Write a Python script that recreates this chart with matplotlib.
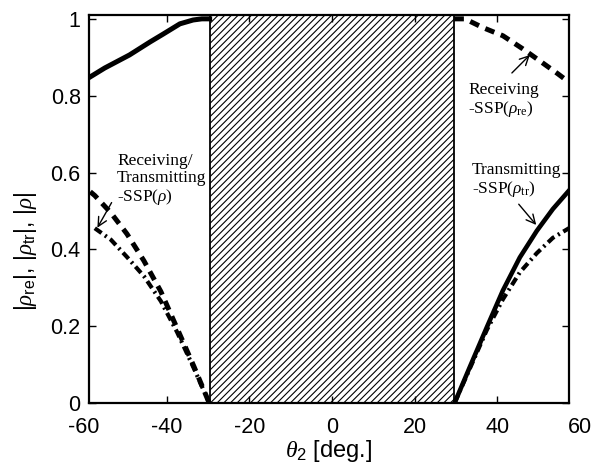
import matplotlib
matplotlib.use('Agg')
import matplotlib.pyplot as plt

# values
theta_tr_left = [-58.8, -55.0, -49.0, -44.0, -40.9, -36.8, -33.6, -31.5, -29.6]
rho_tr_left = [0.847, 0.872, 0.906, 0.940, 0.960, 0.987, 0.997, 1.0, 1.0]
theta_tr_right = [29.7, 33.4, 37.5, 41.4, 45.5, 49.6, 53.5, 57.4]
rho_tr_right = [0.0, 0.094, 0.197, 0.293, 0.379, 0.448, 0.505, 0.553]

theta_re_left = [-58.5, -57.4, -53.5, -49.6, -45.5, -41.4, -37.5, -33.4, -29.7]
rho_re_left = [0.55, 0.54, 0.495, 0.44, 0.37, 0.29, 0.195, 0.095, 0.0]
theta_re_right = [29.6, 32.2, 36.6, 41.4, 46.2, 50.4, 54.7, 57.4]
rho_re_right = [1.0, 1.0, 0.977, 0.956, 0.922, 0.89, 0.857, 0.835]

theta_rho_left = [-57.4, -53.5, -49.6, -45.5, -41.4, -37.5, -33.4, -29.7]
rho_rho_left = [0.455, 0.425, 0.38, 0.33, 0.265, 0.185, 0.09, 0.0]
theta_rho_right = [29.7, 33.4, 37.5, 41.4, 45.5, 49.6, 53.5, 57.4]
rho_rho_right = [0.0, 0.09, 0.19, 0.27, 0.34, 0.39, 0.43, 0.455]

shade = (-29.6, 29.6)
xticks = [-40, -20, 0, 20, 40]
yticks = [0, 0.2, 0.4, 0.6, 0.8, 1.0]
ytick_labels = ['0', '0.2', '0.4', '0.6', '0.8', '1']

plt.rcParams['font.family'] = ['Liberation Sans', 'DejaVu Sans']
plt.rcParams['mathtext.fontset'] = 'custom'
plt.rcParams['mathtext.rm'] = 'Liberation Sans'
plt.rcParams['mathtext.it'] = 'Liberation Serif:italic'
plt.rcParams['mathtext.sf'] = 'Liberation Serif'
plt.rcParams['axes.unicode_minus'] = False
plt.rcParams['lines.scale_dashes'] = False
plt.rcParams['hatch.linewidth'] = 0.8

fig = plt.figure(figsize=(5.95, 4.66), dpi=100)
ax = fig.add_axes([0.1496, 0.1352, 0.8067, 0.8326])

ax.axvspan(shade[0], shade[1], facecolor='white', edgecolor='black',
           hatch='/////', lw=1.3, zorder=1)

dash = (0, (7, 5))
dashdot = (0, (6, 3, 1.5, 3))
ax.plot(theta_tr_left, rho_tr_left, color='black', lw=3.6, zorder=3)
ax.plot(theta_tr_right, rho_tr_right, color='black', lw=3.3, zorder=3)
ax.plot(theta_re_left, rho_re_left, color='black', lw=3.6, ls=dash, zorder=3)
ax.plot(theta_re_right, rho_re_right, color='black', lw=3.6, ls=dash, zorder=3)
ax.plot(theta_rho_left, rho_rho_left, color='black', lw=3.0, ls=dashdot, zorder=3)
ax.plot(theta_rho_right, rho_rho_right, color='black', lw=3.0, ls=dashdot, zorder=3)

ax.set_xlim(-58.8, 57.4)
ax.set_ylim(0, 1.01)
ax.set_xticks(xticks)
ax.set_yticks(yticks)
ax.set_yticklabels(ytick_labels)
ax.tick_params(direction='in', length=5, width=1, labelsize=15.5,
               top=True, right=True)
ax.tick_params(axis='x', pad=10)
ax.tick_params(axis='y', pad=6)
for s in ax.spines.values():
    s.set_linewidth(1.6)

# end labels sit just outside the frame in the original
for v in (-60, 60):
    ax.annotate(str(v), xy=(v, 0), xycoords=('data', 'axes fraction'),
                xytext=(0, -10), textcoords='offset points',
                ha='center', va='top', fontsize=15.5, annotation_clip=False)

ax.set_xlabel(r'$\theta_{2}$ [deg.]', fontsize=17, labelpad=0)
ax.set_ylabel(r'$|\rho_{\rm re}|$, $|\rho_{\rm tr}|$, $|\rho|$', fontsize=16.5)
ax.yaxis.set_label_coords(-0.105, 0.39)

serif = ['Liberation Serif', 'DejaVu Serif']
ax.text(-52.0, 0.65, 'Receiving/\nTransmitting\n-SSP($\\rho$)', family=serif,
        fontsize=12.5, linespacing=1.05, ha='left', va='top', zorder=4)
ax.text(32.95, 0.835, 'Receiving\n-SSP($\\rho_{\\mathsf{re}}$)', family=serif,
        fontsize=12.5, linespacing=1.05, ha='left', va='top', zorder=4)
ax.text(33.9, 0.627, 'Transmitting\n-SSP($\\rho_{\\mathsf{tr}}$)', family=serif,
        fontsize=12.5, linespacing=1.05, ha='left', va='top', zorder=4)

arrow = dict(arrowstyle='->', lw=1.0, color='black', mutation_scale=16)
ax.annotate('', xy=(-57.1, 0.45), xytext=(-53.0, 0.528), arrowprops=arrow, zorder=5)
ax.annotate('', xy=(48.4, 0.911), xytext=(43.1, 0.854), arrowprops=arrow, zorder=5)
ax.annotate('', xy=(49.9, 0.458), xytext=(44.8, 0.523), arrowprops=arrow, zorder=5)

fig.savefig('out.png', dpi=100)
